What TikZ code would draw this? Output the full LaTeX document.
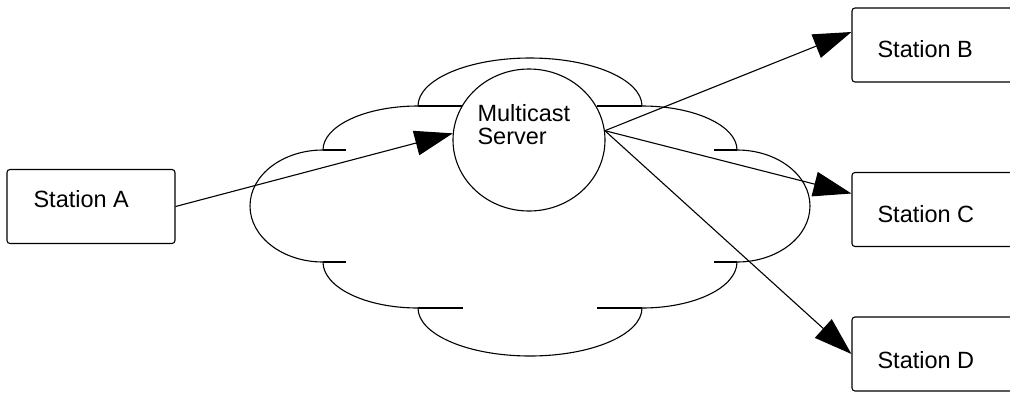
\documentclass[tikz,border=0pt]{standalone}
\usepackage{fontspec}
\setmainfont{Liberation Sans}
\usetikzlibrary{arrows.meta, shapes.geometric}

\begin{document}
\begin{tikzpicture}[x=1pt, y=-1pt, line width=1.1pt,
        station/.style={draw, fill=white, rounded corners=3pt, minimum width=168pt, minimum height=74pt, inner sep=0pt},
        lbl/.style={inner sep=0pt, font=\fontsize{23.5}{23}\selectfont},
        flow/.style={-{Triangle[length=38pt, width=25pt]}}]

        \useasboundingbox (0,0) rectangle (1010,392);

        % Cloud
        \draw (418,106) arc[start angle=180, end angle=360, x radius=112, y radius=48]
              arc[start angle=270, end angle=360, x radius=95, y radius=44]
              arc[start angle=-90, end angle=90, x radius=73, y radius=56]
              arc[start angle=0, end angle=90, x radius=95, y radius=46]
              arc[start angle=0, end angle=180, x radius=112, y radius=48]
              arc[start angle=90, end angle=180, x radius=95, y radius=46]
              arc[start angle=90, end angle=270, x radius=73, y radius=56]
              arc[start angle=180, end angle=270, x radius=95, y radius=44];

        % Stubs
        \foreach \y in {106,308} {
            \draw (418,\y) -- (463,\y);
            \draw (642,\y) -- (597,\y);
        }
        \foreach \y in {150,262} {
            \draw (323,\y) -- (346,\y);
            \draw (737,\y) -- (714,\y);
        }

        % Server
        \node[draw, ellipse, fill=white, minimum width=152pt, minimum height=142pt, inner sep=0pt] (srv) at (529,140) {};
        \node[lbl, anchor=north west, align=left] (srvtxt) at (477,104) {Multicast\\Server};

        % Stations
        \node[station] (sa) at (91,206.5) {};
        \node[station] (sb) at (936,45) {};
        \node[station] (sc) at (936,209.5) {};
        \node[station] (sd) at (936,354) {};

        \node[lbl, anchor=base west] (la) at (33,207) {Station A};
        \node[lbl, anchor=base west] (lb) at (877,57) {Station B};
        \node[lbl, anchor=base west] (lc) at (877,222) {Station C};
        \node[lbl, anchor=base west] (ld) at (877,368) {Station D};

        % Arrows
        \draw[flow] (sa.east) -- (srv.175);
        \draw[flow] (srv.7) -- ([yshift=13pt]sb.west);
        \draw[flow] (srv.7) -- ([yshift=16pt]sc.west);
        \draw[flow] (srv.7) -- (sd.west);

        \end{tikzpicture}
\end{document}
